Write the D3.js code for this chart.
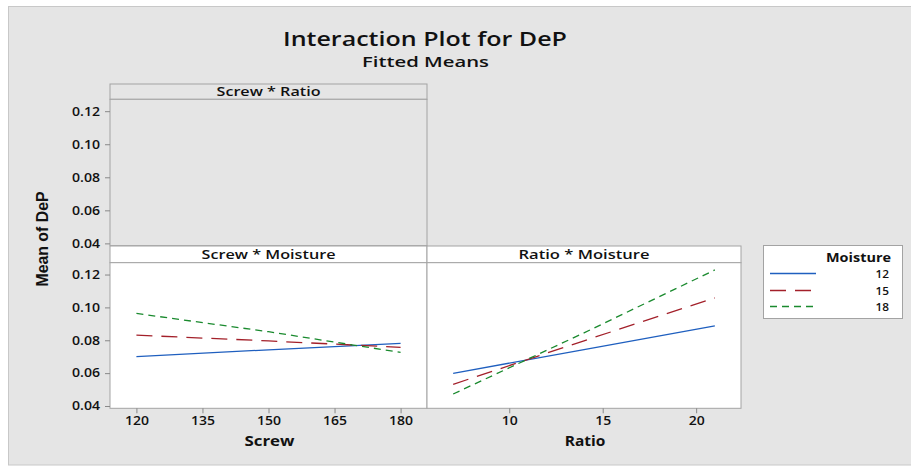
<!DOCTYPE html>
<html><head><meta charset="utf-8">
<script src="https://cdn.jsdelivr.net/npm/d3@7"></script>
<style>html,body{margin:0;padding:0;background:#fff;}svg{display:block;}</style>
</head><body>
<svg id="c" width="911" height="466"></svg>
<script>
// ---- data ----
const screwLevels = [120, 150, 180];
const ratioLevels = [7, 14, 21];
const moistureLevels = ["12", "15", "18"];
const screwMoistureMeans = {
  "12": [0.0700, 0.0742, 0.0781],
  "15": [0.0831, 0.0796, 0.0757],
  "18": [0.0963, 0.0852, 0.0726]
};
const ratioMoistureMeans = {
  "12": [0.0599, 0.0743, 0.0888],
  "15": [0.0532, 0.0797, 0.1058],
  "18": [0.0473, 0.0845, 0.1228]
};
const yTicks = [0.04, 0.06, 0.08, 0.10, 0.12];
const screwTicks = [120, 135, 150, 165, 180];
const ratioTicks = [10, 15, 20];

// ---- styles ----
const colors = {"12": "#1f5fbf", "15": "#a3202a", "18": "#1a8a2e"};
const dashes = {"12": null, "15": "16,9", "18": "7,5"};
const bg = "#e5e5e5", border = "#a3a3a3";
const font = "'Open Sans', sans-serif";

const svg = d3.select("#c");
svg.append("rect").attr("x", 8.5).attr("y", 6.5).attr("width", 920).attr("height", 458.5)
  .attr("fill", bg).attr("stroke", "#c8c8c8");

function txt(x, y, s, size, weight, len, anchor) {
  return svg.append("text").attr("x", x).attr("y", y).attr("text-anchor", anchor || "middle")
    .attr("font-family", font).attr("font-weight", weight).attr("font-size", size)
    .attr("fill", "#111").attr("textLength", len).attr("lengthAdjust", "spacingAndGlyphs").text(s);
}
// width of numeric labels (stretched look of the reference)
const numLen = s => s.replace(/[^0-9]/g, "").length * 8 + s.replace(/[0-9]/g, "").length * 4;

// titles
txt(425, 45.8, "Interaction Plot for DeP", 20.5, 600, 284);
txt(425.5, 67, "Fitted Means", 15, 600, 127);

const yDomain = [0.0386, 0.1272];
const L0 = 110, L1 = 427, R1 = 741;

function panel(x0, x1, hTop, hBot, pBot, title, len, white) {
  svg.append("rect").attr("x", x0).attr("y", hTop).attr("width", x1 - x0).attr("height", hBot - hTop)
    .attr("fill", white ? "#fff" : bg).attr("stroke", border).attr("stroke-width", 1);
  svg.append("rect").attr("x", x0).attr("y", hBot).attr("width", x1 - x0).attr("height", pBot - hBot)
    .attr("fill", white ? "#fff" : bg).attr("stroke", border).attr("stroke-width", 1);
  txt((x0 + x1) / 2, hBot - 3.3, title, 13.3, 600, len);
}

function yAxis(y) {
  const g = svg.append("g").attr("transform", `translate(${L0},0)`)
    .call(d3.axisLeft(y).tickValues(yTicks).tickFormat(d3.format(".2f")).tickSize(5).tickPadding(5));
  g.select(".domain").remove();
  g.selectAll(".tick line").attr("stroke", "#888");
  g.selectAll(".tick text").attr("font-family", font).attr("font-weight", 600)
    .attr("font-size", 12).attr("fill", "#111")
    .attr("textLength", d => numLen(d3.format(".2f")(d))).attr("lengthAdjust", "spacingAndGlyphs");
}

function xAxis(x, ticks, yPos, label, len) {
  const g = svg.append("g").attr("transform", `translate(0,${yPos})`)
    .call(d3.axisBottom(x).tickValues(ticks).tickFormat(d3.format("d")).tickSize(5).tickPadding(3.5));
  g.select(".domain").remove();
  g.selectAll(".tick line").attr("stroke", "#888");
  g.selectAll(".tick text").attr("font-family", font).attr("font-weight", 600)
    .attr("font-size", 12).attr("fill", "#111")
    .attr("textLength", d => numLen(String(d))).attr("lengthAdjust", "spacingAndGlyphs");
  const [a, b] = x.range();
  txt((a + b) / 2 + 1, 445.7, label, 13.6, 700, len);
}

// top panel (empty)
panel(L0, L1, 84, 99.3, 245.7, "Screw * Ratio", 104, false);
const yTop = d3.scaleLinear().domain(yDomain).range([245.7, 99.3]);
yAxis(yTop);

// bottom panels
const hTop = 246, hBot = 262.7, pBot = 408.3;
panel(L0, L1, hTop, hBot, pBot, "Screw * Moisture", 134, true);
panel(L1, R1, hTop, hBot, pBot, "Ratio * Moisture", 131, true);
const yBot = d3.scaleLinear().domain(yDomain).range([pBot, hBot]);
yAxis(yBot);

const xScrew = d3.scaleLinear().domain([114, 186]).range([L0, L1]);
const xRatio = d3.scaleLinear().domain([5.6, 22.4]).range([L1, R1]);
xAxis(xScrew, screwTicks, pBot, "Screw", 50);
xAxis(xRatio, ratioTicks, pBot, "Ratio", 40.6);

function drawLines(x, levels, means) {
  moistureLevels.forEach(m => {
    const pts = levels.map((lv, i) => [lv, means[m][i]]);
    svg.append("path").datum(pts)
      .attr("d", d3.line().x(d => x(d[0])).y(d => yBot(d[1])))
      .attr("fill", "none").attr("stroke", colors[m]).attr("stroke-width", 1.3)
      .attr("stroke-dasharray", dashes[m]);
  });
}
drawLines(xScrew, screwLevels, screwMoistureMeans);
drawLines(xRatio, ratioLevels, ratioMoistureMeans);

// y label
svg.append("text").attr("transform", "translate(48.3,239) rotate(-90)")
  .attr("text-anchor", "middle").attr("font-family", "'Liberation Sans', Arial, sans-serif")
  .attr("font-weight", 700).attr("font-size", 16).attr("fill", "#111")
  .attr("textLength", 95).attr("lengthAdjust", "spacingAndGlyphs").text("Mean of DeP");

// legend
svg.append("rect").attr("x", 763.5).attr("y", 245.5).attr("width", 139).attr("height", 73)
  .attr("fill", "#fff").attr("stroke", border);
txt(891, 262, "Moisture", 13, 700, 65, "end");
const legY = [273.5, 290.5, 306.5];
moistureLevels.forEach((m, i) => {
  svg.append("line").attr("x1", 770).attr("x2", 816).attr("y1", legY[i]).attr("y2", legY[i])
    .attr("stroke", colors[m]).attr("stroke-width", 1.3).attr("stroke-dasharray", dashes[m]);
  txt(889, legY[i] + 4, m, 11.5, 600, 13.5, "end");
});
</script>
</body></html>
